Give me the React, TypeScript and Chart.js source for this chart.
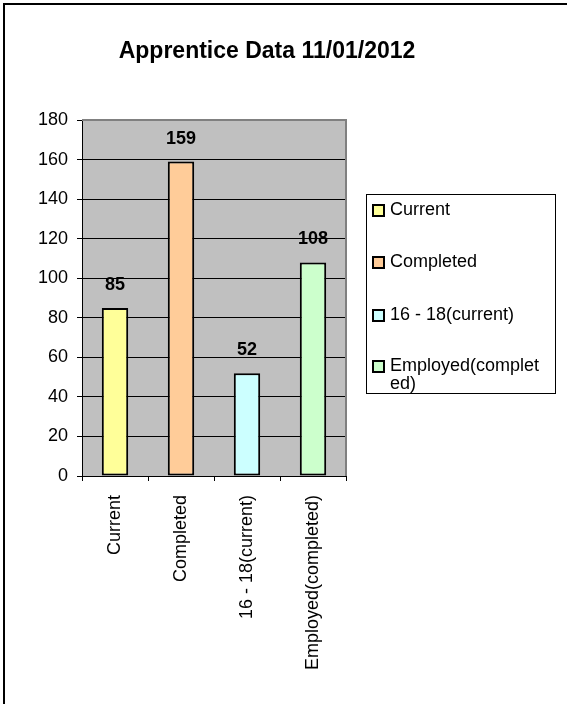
import React, { useEffect, useRef } from "react";
import { Chart, registerables } from "chart.js";

Chart.register(...registerables);

const chartTitle = "Apprentice Data 11/01/2012";
const categories = ["Current", "Completed", "16 - 18(current)", "Employed(completed)"];
const values = [85, 159, 52, 108];
const barColors = ["#FFFF99", "#FFCC99", "#CCFFFF", "#CCFFCC"];
const legendLines = [["Current"], ["Completed"], ["16 - 18(current)"], ["Employed(complet", "ed)"]];
const yMin = 0;
const yMax = 180;
const yStep = 20;

const FONT = "Arial, 'Liberation Sans', sans-serif";

export default function App() {
  const ref = useRef<HTMLCanvasElement>(null);

  useEffect(() => {
    const canvas = ref.current;
    if (!canvas) return;

    const decor = {
      id: "decor",
      beforeDraw(chart: any) {
        const ctx = chart.ctx;
        const a = chart.chartArea;
        ctx.save();
        ctx.fillStyle = "#ffffff";
        ctx.fillRect(0, 0, chart.width, chart.height);
        ctx.strokeStyle = "#000";
        ctx.lineWidth = 2;
        ctx.beginPath();
        ctx.moveTo(4, 710);
        ctx.lineTo(4, 4);
        ctx.lineTo(570, 4);
        ctx.stroke();
        ctx.fillStyle = "#C0C0C0";
        ctx.fillRect(a.left, a.top, a.right - a.left, a.bottom - a.top);
        ctx.restore();
      },
      afterDatasetsDraw(chart: any) {
        const ctx = chart.ctx;
        const a = chart.chartArea;
        ctx.save();
        ctx.strokeStyle = "#808080";
        ctx.lineWidth = 2;
        ctx.beginPath();
        ctx.moveTo(a.left, a.top);
        ctx.lineTo(a.right, a.top);
        ctx.lineTo(a.right, a.bottom);
        ctx.stroke();
        ctx.fillStyle = "#000";
        ctx.font = `bold 23px ${FONT}`;
        ctx.textAlign = "center";
        ctx.textBaseline = "middle";
        ctx.fillText(chartTitle, 267, 52);
        const meta = chart.getDatasetMeta(0);
        ctx.font = `bold 18px ${FONT}`;
        meta.data.forEach((bar: any, i: number) => {
          ctx.fillText(String(values[i]), bar.x, bar.y - 23);
        });
        const lx = 366, ly = 194, lw = 189, lh = 199;
        ctx.fillStyle = "#fff";
        ctx.fillRect(lx, ly, lw, lh);
        ctx.strokeStyle = "#000";
        ctx.lineWidth = 1;
        ctx.strokeRect(lx + 0.5, ly + 0.5, lw, lh);
        const rows = [210, 262, 315, 366];
        ctx.font = `18px ${FONT}`;
        ctx.textAlign = "left";
        legendLines.forEach((lines, i) => {
          const y = rows[i];
          ctx.fillStyle = barColors[i];
          ctx.fillRect(373, y - 5, 11, 11);
          ctx.strokeStyle = "#000";
          ctx.lineWidth = 2;
          ctx.strokeRect(373, y - 5, 11, 11);
          ctx.fillStyle = "#000";
          lines.forEach((t, j) => {
            ctx.fillText(t, 390, y + j * 18);
          });
        });
        ctx.restore();
      },
    };

    const chart = new Chart(canvas, {
      type: "bar",
      data: {
        labels: categories,
        datasets: [
          {
            data: values,
            backgroundColor: barColors,
            borderColor: "#000",
            borderWidth: 2,
            borderSkipped: false,
            categoryPercentage: 1,
            barPercentage: 0.4,
          },
        ],
      },
      options: {
        responsive: false,
        animation: false,
        events: [],
        layout: { padding: { left: 0, right: 221, top: 120, bottom: 0 } },
        plugins: { legend: { display: false }, tooltip: { enabled: false }, title: { display: false } },
        scales: {
          x: {
            offset: true,
            border: { display: true, color: "#000", width: 1 },
            grid: { offset: true, drawOnChartArea: false, drawTicks: true, tickLength: 5, color: "#000" },
            ticks: {
              color: "#000",
              font: { family: FONT, size: 18 },
              minRotation: 90,
              maxRotation: 90,
              autoSkip: false,
              padding: 14,
            },
            afterFit(scale: any) {
              scale.height = 228;
            },
          },
          y: {
            min: yMin,
            max: yMax,
            border: { display: true, color: "#000", width: 1 },
            grid: { color: "#000", tickLength: 5, drawTicks: true },
            ticks: {
              stepSize: yStep,
              color: "#000",
              font: { family: FONT, size: 18 },
              padding: 9,
            },
            afterFit(scale: any) {
              scale.width = 82;
            },
          },
        },
      },
      plugins: [decor],
    });

    return () => chart.destroy();
  }, []);

  return (
    <div style={{ position: "absolute", left: 0, top: 0, width: 567, height: 704 }}>
      <canvas ref={ref} width={567} height={704} />
    </div>
  );
}
